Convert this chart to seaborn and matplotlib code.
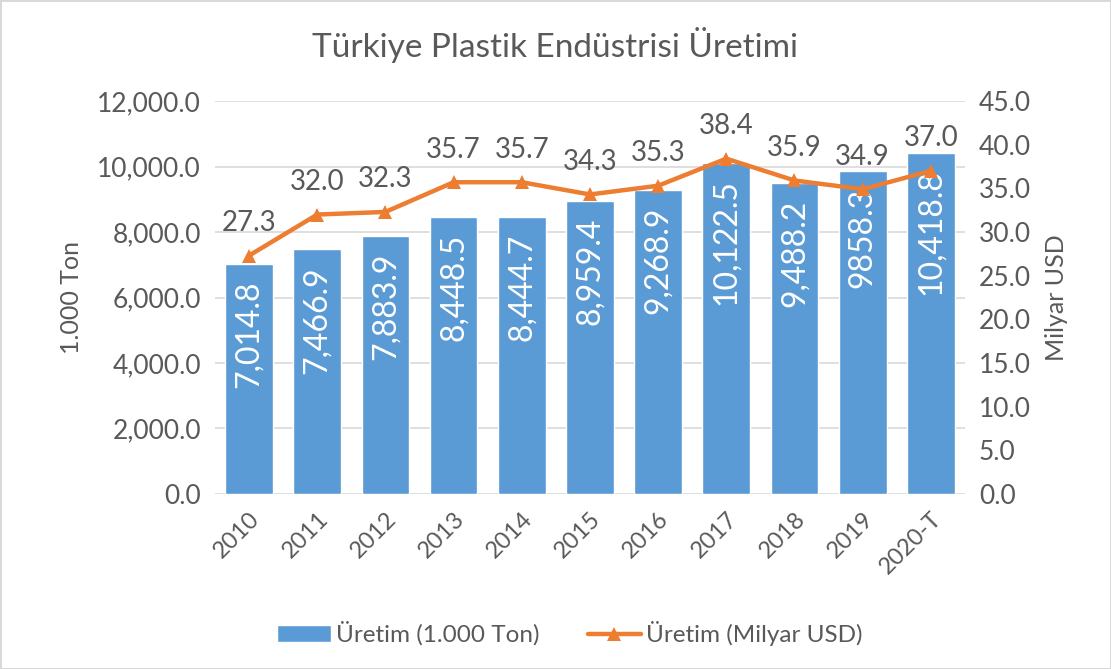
import numpy as np
import pandas as pd
import matplotlib.pyplot as plt
import seaborn as sns
from matplotlib.patches import Patch
from matplotlib.lines import Line2D

# Datos
anios = ['2010', '2011', '2012', '2013', '2014', '2015', '2016', '2017', '2018', '2019', '2020-T']
uretim_ton = [7014.8, 7466.9, 7883.9, 8448.5, 8444.7, 8959.4, 9268.9, 10122.5, 9488.2, 9858.3, 10418.8]
etiquetas_ton = ['7,014.8', '7,466.9', '7,883.9', '8,448.5', '8,444.7', '8,959.4',
                 '9,268.9', '10,122.5', '9,488.2', '9858.3', '10,418.8']
uretim_usd = [27.3, 32.0, 32.3, 35.7, 35.7, 34.3, 35.3, 38.4, 35.9, 34.9, 37.0]

df = pd.DataFrame({'Yil': anios, 'Ton': uretim_ton, 'USD': uretim_usd})

AZUL = '#5B9BD5'
NARANJA = '#ED7D31'
GRIS_TXT = '#595959'
GRIS_LIN = '#D9D9D9'

sns.set_style('white')
plt.rcParams['font.family'] = ['Lato', 'DejaVu Sans']

fig = plt.figure(figsize=(11.11, 6.69), dpi=100, edgecolor=GRIS_LIN)
fig.patch.set_linewidth(2)
ax = fig.add_axes([0.1935, 0.2616, 0.675, 0.5874])

# Barras (1.000 Ton)
sns.barplot(data=df, x='Yil', y='Ton', color=AZUL, width=0.7, saturation=1, ax=ax)
ax.set_ylim(0, 12000)
ax.set_yticks(np.arange(0, 12001, 2000))
ax.set_yticklabels([f'{v:,.1f}' for v in np.arange(0, 12001, 2000)])
ax.yaxis.grid(True, color=GRIS_LIN, linewidth=1.2)
ax.set_axisbelow(True)
ax.set_xlim(-0.5, len(anios) - 0.5)
ax.set_xlabel('')
ax.set_ylabel('1.000 Ton', fontsize=18, color=GRIS_TXT, labelpad=10)
ax.tick_params(axis='both', length=0, labelsize=19, labelcolor=GRIS_TXT, pad=10)
plt.setp(ax.get_xticklabels(), rotation=45, ha='right', rotation_mode='anchor', fontsize=17)
for s in ax.spines.values():
    s.set_visible(False)

# Etiquetas dentro de las barras
for i, (v, lbl) in enumerate(zip(uretim_ton, etiquetas_ton)):
    ax.annotate(lbl, (i, v), xytext=(0, -12), textcoords='offset points',
                rotation=90, ha='center', va='top', color='white', fontsize=23)

# Linea (Milyar USD)
ax2 = ax.twinx()
sns.lineplot(data=df, x='Yil', y='USD', color=NARANJA, linewidth=3.2, marker='^',
             markersize=10, markeredgewidth=0, ax=ax2, sort=False)
ax2.set_ylim(0, 45)
ax2.set_yticks(np.arange(0, 45.1, 5))
ax2.set_yticklabels([f'{v:.1f}' for v in np.arange(0, 45.1, 5)])
ax2.set_ylabel('Milyar USD', fontsize=18, color=GRIS_TXT, labelpad=10)
ax2.tick_params(axis='y', length=0, labelsize=19, labelcolor=GRIS_TXT, pad=10)
for s in ax2.spines.values():
    s.set_visible(False)

for i, v in enumerate(uretim_usd):
    ax2.annotate(f'{v:.1f}', (i, v), xytext=(0, 14), textcoords='offset points',
                 ha='center', va='bottom', color=GRIS_TXT, fontsize=20)

fig.suptitle('Türkiye Plastik Endüstrisi Üretimi', fontsize=24, color=GRIS_TXT, y=0.96)

# Leyenda
h1 = Patch(facecolor=AZUL, label='Üretim (1.000 Ton)')
h2 = Line2D([], [], color=NARANJA, linewidth=3.2, marker='^', markersize=10,
            markeredgewidth=0, label='Üretim (Milyar USD)')
fig.legend(handles=[h1, h2], loc='center', bbox_to_anchor=(0.513, 0.053), ncol=2,
           frameon=False, fontsize=17.5, labelcolor=GRIS_TXT, handlelength=2.2,
           handleheight=0.7, handletextpad=0.2, columnspacing=2.0)

fig.savefig('out.png', dpi=100)
